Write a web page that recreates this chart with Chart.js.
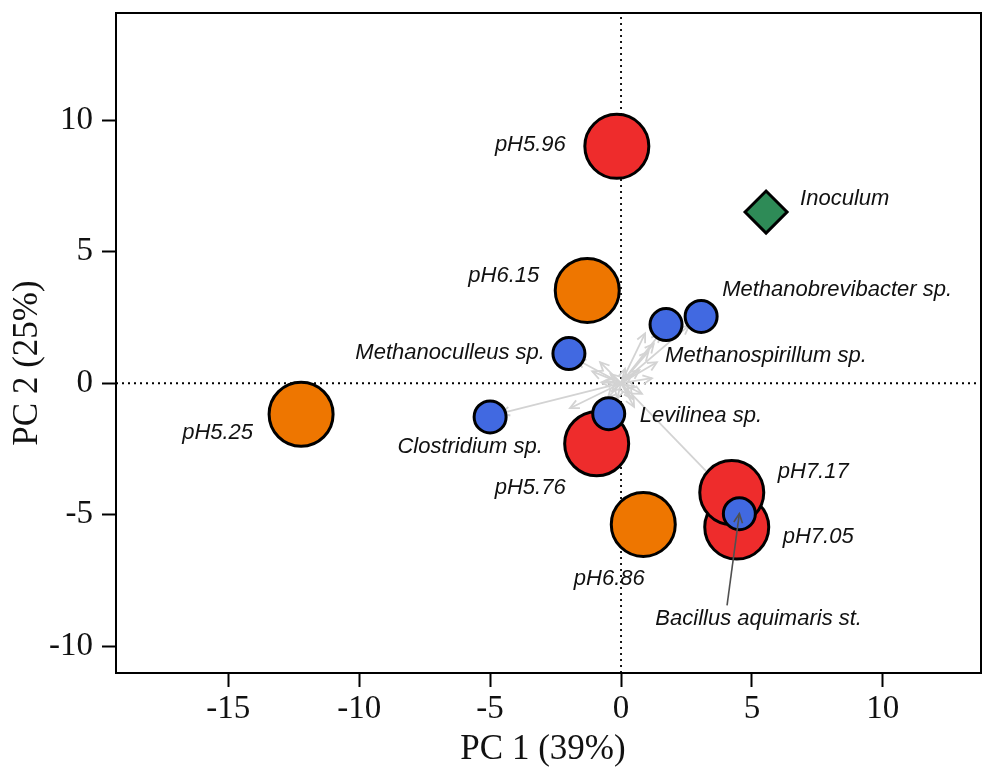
<!DOCTYPE html>
<html>
<head>
<meta charset="utf-8">
<script src="https://cdn.jsdelivr.net/npm/chart.js@4"></script>
<style>
  html, body { margin: 0; padding: 0; background: #fff; }
  #wrap { width: 983px; height: 771px; }
</style>
</head>
<body>
<div id="wrap"><canvas id="chart" width="983" height="771"></canvas></div>
<script>
// sample scores (PC1, PC2)
var redSamples = ['pH5.96', 'pH5.76', 'pH7.05', 'pH7.17'];
var redPC1 = [-0.16, -0.93, 4.42, 4.23];
var redPC2 = [9.01, -2.30, -5.47, -4.16];

var orangeSamples = ['pH6.15', 'pH5.25', 'pH6.86'];
var orangePC1 = [-1.29, -12.22, 0.85];
var orangePC2 = [3.53, -1.18, -5.37];

var inoculumName = ['Inoculum'];
var inoculumPC1 = [5.54];
var inoculumPC2 = [6.51];

// taxa
var taxa = ['Methanoculleus sp.', 'Clostridium sp.', 'Levilinea sp.', 'Methanospirillum sp.', 'Methanobrevibacter sp.', 'Bacillus aquimaris st.'];
var taxaPC1 = [-1.99, -5.00, -0.47, 1.72, 3.06, 4.52];
var taxaPC2 = [1.13, -1.28, -1.16, 2.23, 2.54, -4.96];

// loading arrows (tips, from the origin)
var loadPC1 = [-4.6, 3.5, -1.7, 1.5, 2.6, 0.92, 1.37, -0.80, -0.75, -1.95, 1.18, 0.5, 1.25,
  0.4, -0.4, 0.3, -0.35, 0.55, 0.15, -0.6, 0.45, -0.15, 0.7, -0.5, 0.8, 1.05, -1.1];
var loadPC2 = [-1.15, -3.6, 0.9, 1.9, 2.2, 1.90, 0.80, 0.80, 0.03, -0.95, 0.19, -0.9, 1.5,
  0.3, 0.35, -0.45, -0.3, -0.15, 0.55, 0.1, -0.6, -0.6, 0.5, -0.55, -0.4, 1.2, 0.45];

// pointer from the Bacillus label
var bacillusFrom = [4.05, -8.45];

var xTicks = [-15, -10, -5, 0, 5, 10];
var yTicks = [-10, -5, 0, 5, 10];
var xMin = -19.29, xMax = 13.75, yMin = -11.02, yMax = 14.08;

// label placement relative to the point, in pixels: dx, dy, align
var labelPos = {
	'pH5.96': [-51, -1, 'right'],
	'pH5.76': [-31, 44, 'right'],
	'pH7.05': [46, 10, 'left'],
	'pH7.17': [46, -21, 'left'],
	'pH6.15': [-48, -15, 'right'],
	'pH5.25': [-48, 19, 'right'],
	'pH6.86': [-34, 54, 'center'],
	'Inoculum': [34, -13, 'left'],
	'Methanoculleus sp.': [-24, -1, 'right'],
	'Clostridium sp.': [-20, 30, 'center'],
	'Levilinea sp.': [31, 2, 'left'],
	'Methanospirillum sp.': [-1, 31, 'left'],
	'Methanobrevibacter sp.': [21, -27, 'left'],
	'Bacillus aquimaris st.': [-84, 105, 'left']
};

function pts(xs, ys) {
	return xs.map(function (v, i) { return { x: v, y: ys[i] }; });
}

var datasets = [];

// dotted zero lines
datasets.push({ type: 'line', data: [{ x: xMin, y: 0 }, { x: xMax, y: 0 }], borderColor: '#000', borderWidth: 1.8,
	borderDash: [2, 4], pointRadius: 0, order: 30 });
datasets.push({ type: 'line', data: [{ x: 0, y: yMin }, { x: 0, y: yMax }], borderColor: '#000', borderWidth: 1.8,
	borderDash: [2, 4], pointRadius: 0, order: 30 });

// loading arrows
loadPC1.forEach(function (v, i) {
	datasets.push({ type: 'line', arrow: true, data: [{ x: 0, y: 0 }, { x: v, y: loadPC2[i] }],
		borderColor: '#d3d3d3', borderWidth: 1.8, pointRadius: 0, order: 20 });
});

datasets.push({ type: 'scatter', data: pts(orangePC1, orangePC2), names: orangeSamples,
	backgroundColor: '#EE7600', borderColor: '#000', borderWidth: 3, pointRadius: 32, order: 8 });
datasets.push({ type: 'scatter', data: pts(redPC1, redPC2), names: redSamples,
	backgroundColor: '#EE2C2C', borderColor: '#000', borderWidth: 3, pointRadius: 32, order: 7 });
datasets.push({ type: 'scatter', data: pts(inoculumPC1, inoculumPC2), names: inoculumName, pointStyle: 'rectRot',
	backgroundColor: '#2E8B57', borderColor: '#000', borderWidth: 3, pointRadius: 21, order: 6 });
datasets.push({ type: 'scatter', data: pts(taxaPC1, taxaPC2), names: taxa,
	backgroundColor: '#4169E1', borderColor: '#000', borderWidth: 3, pointRadius: 16, order: 4 });

datasets.push({ type: 'line', arrow: true, data: [{ x: bacillusFrom[0], y: bacillusFrom[1] }, { x: taxaPC1[5], y: taxaPC2[5] }],
	borderColor: '#505050', borderWidth: 1.6, pointRadius: 0, order: 1 });

var arrowHeads = {
	id: 'arrowHeads',
	afterDatasetDraw: function (chart, args) {
		var ds = chart.data.datasets[args.index];
		if (!ds.arrow) return;
		var a = args.meta.data[0], b = args.meta.data[1];
		var ang = Math.atan2(b.y - a.y, b.x - a.x), L = 10, w = 0.45;
		var ctx = chart.ctx;
		ctx.save();
		ctx.strokeStyle = ds.borderColor;
		ctx.lineWidth = ds.borderWidth;
		ctx.beginPath();
		ctx.moveTo(b.x - L * Math.cos(ang - w), b.y - L * Math.sin(ang - w));
		ctx.lineTo(b.x, b.y);
		ctx.lineTo(b.x - L * Math.cos(ang + w), b.y - L * Math.sin(ang + w));
		ctx.stroke();
		ctx.restore();
	}
};

var labels = {
	id: 'labels',
	afterDatasetsDraw: function (chart) {
		var ctx = chart.ctx;
		ctx.save();
		ctx.font = 'italic 22px "Liberation Sans", Arial, sans-serif';
		ctx.fillStyle = '#111';
		ctx.textBaseline = 'middle';
		chart.data.datasets.forEach(function (ds, i) {
			if (!ds.names) return;
			var meta = chart.getDatasetMeta(i);
			ds.names.forEach(function (n, j) {
				var p = meta.data[j], o = labelPos[n];
				ctx.textAlign = o[2];
				ctx.fillText(n, p.x + o[0], p.y + o[1]);
			});
		});
		ctx.restore();
	}
};

var frame = {
	id: 'frame',
	afterDraw: function (chart) {
		var ctx = chart.ctx, c = chart.chartArea;
		ctx.save();
		ctx.strokeStyle = '#000';
		ctx.lineWidth = 2;
		ctx.strokeRect(c.left, c.top, c.right - c.left, c.bottom - c.top);
		ctx.fillStyle = '#111';
		ctx.font = '35px "Liberation Serif", "Times New Roman", serif';
		ctx.textAlign = 'center';
		ctx.textBaseline = 'middle';
		ctx.fillText('PC 1 (39%)', 543, 750);
		ctx.translate(28, 363);
		ctx.rotate(-Math.PI / 2);
		ctx.fillText('PC 2 (25%)', 0, 0);
		ctx.restore();
	}
};

function noPad(s) {
	s.paddingTop = 0; s.paddingBottom = 0; s.paddingLeft = 0; s.paddingRight = 0;
}

var tickFont = { family: '"Liberation Serif", "Times New Roman", serif', size: 33 };

var chartInstance = new Chart(document.getElementById('chart').getContext('2d'), {
	type: 'scatter',
	data: { datasets: datasets },
	plugins: [arrowHeads, labels, frame],
	options: {
		responsive: false,
		animation: false,
		events: [],
		layout: { autoPadding: false, padding: { left: 0, right: 2, top: 13, bottom: 0 } },
		plugins: { legend: { display: false }, tooltip: { enabled: false } },
		scales: {
			x: {
				type: 'linear', min: xMin, max: xMax,
				afterBuildTicks: function (s) { s.ticks = xTicks.map(function (v) { return { value: v }; }); },
				afterFit: function (s) { s.height = 98; noPad(s); },
				border: { display: false },
				grid: { drawOnChartArea: false, drawTicks: true, tickLength: 14, tickColor: '#000', tickWidth: 2 },
				ticks: { font: tickFont, color: '#111', padding: 3, maxRotation: 0, autoSkip: false }
			},
			y: {
				type: 'linear', min: yMin, max: yMax,
				afterBuildTicks: function (s) { s.ticks = yTicks.map(function (v) { return { value: v }; }); },
				afterFit: function (s) { s.width = 116; noPad(s); },
				border: { display: false },
				grid: { drawOnChartArea: false, drawTicks: true, tickLength: 14, tickColor: '#000', tickWidth: 2 },
				ticks: { font: tickFont, color: '#111', padding: 9, autoSkip: false }
			}
		}
	}
});
</script>
</body>
</html>
